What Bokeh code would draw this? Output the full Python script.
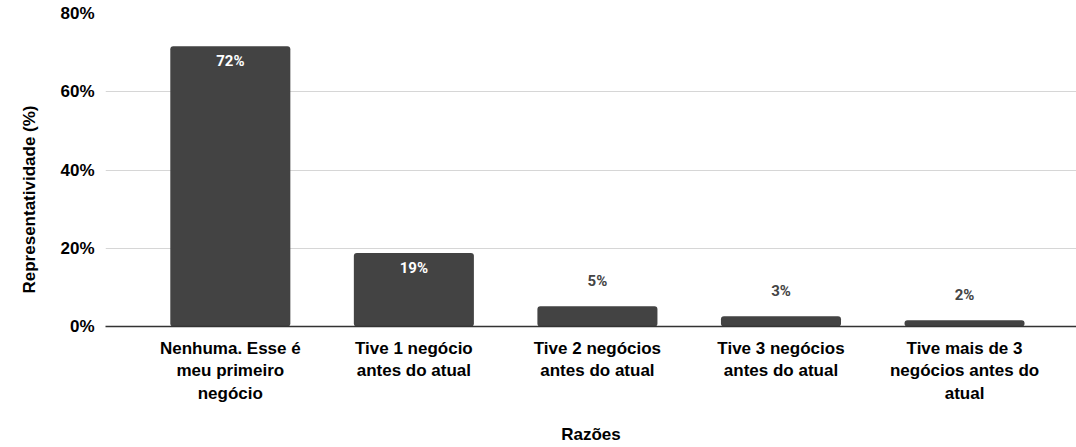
from bokeh.plotting import figure
from bokeh.models import ColumnDataSource, FixedTicker, PrintfTickFormatter, Range1d, Title
from bokeh.core.properties import value
from bokeh.embed import file_html
from bokeh.resources import INLINE

# ---- data ----
categories = [
    "Nenhuma. Esse é\nmeu primeiro\nnegócio",
    "Tive 1 negócio\nantes do atual",
    "Tive 2 negócios\nantes do atual",
    "Tive 3 negócios\nantes do atual",
    "Tive mais de 3\nnegócios antes do\natual",
]
values = [71.6, 18.8, 5.2, 2.6, 1.6]
value_labels = ["72%", "19%", "5%", "3%", "2%"]
y_ticks = [0, 20, 40, 60, 80]
x_title = "Razões"
y_title = "Representatividade (%)"

# ---- layout helpers ----
positions = [i + 0.5 for i in range(len(categories))]
inside = [v > 10 for v in values]
src = ColumnDataSource(dict(
    x=positions,
    top=values,
    label=value_labels,
    yoff=[15 if ins else -25 for ins in inside],
    color=["#ffffff" if ins else "#444444" for ins in inside],
))

BAR = "#434343"
FONT = "Liberation Sans"

p = figure(width=1076, height=447, output_backend="svg", toolbar_location=None,
           x_range=Range1d(-0.18, 5.11), y_range=Range1d(0, 80))
p.min_border_left = 105
p.min_border_right = 0
p.min_border_top = 13
p.min_border_bottom = 120
p.outline_line_color = None
p.background_fill_color = "white"
p.border_fill_color = "white"

p.vbar(x="x", top="top", bottom=0, width=0.654, source=src,
       fill_color=BAR, line_color=None, border_radius=3)

p.text(x="x", y="top", text="label", y_offset="yoff", source=src,
       text_color="color", text_align="center", text_baseline="middle",
       text_font=value("Roboto"), text_font_style="bold", text_font_size="15px")

# y axis
p.yaxis.ticker = FixedTicker(ticks=y_ticks)
p.yaxis.formatter = PrintfTickFormatter(format="%d%%")
p.yaxis.axis_line_color = None
p.yaxis.major_tick_line_color = None
p.yaxis.minor_tick_line_color = None
p.yaxis.major_label_text_font = FONT
p.yaxis.major_label_text_font_style = "bold"
p.yaxis.major_label_text_font_size = "17px"
p.yaxis.major_label_text_color = "#000000"
p.yaxis.major_label_standoff = 5

# y title as a side title (lets it sit below the frame centre, as in the reference)
p.add_layout(Title(text=y_title, align="left", offset=33, vertical_align="middle",
                   standoff=36, text_font=FONT, text_font_style="bold",
                   text_font_size="17px", text_color="#000000"), "left")

p.ygrid.grid_line_color = "#d6d6d6"
p.ygrid.grid_line_width = 1
p.xgrid.grid_line_color = None

# x axis
p.xaxis.ticker = FixedTicker(ticks=positions)
p.xaxis.major_label_overrides = {pos: cat for pos, cat in zip(positions, categories)}
p.xaxis.axis_line_color = "#333333"
p.xaxis.axis_line_width = 1.5
p.xaxis.major_tick_line_color = None
p.xaxis.minor_tick_line_color = None
p.xaxis.major_label_text_font = FONT
p.xaxis.major_label_text_font_style = "bold"
p.xaxis.major_label_text_font_size = "17px"
p.xaxis.major_label_text_color = "#000000"
p.xaxis.major_label_standoff = 6
p.xaxis.axis_label = x_title
p.xaxis.axis_label_text_font = FONT
p.xaxis.axis_label_text_font_style = "bold"
p.xaxis.axis_label_text_font_size = "17px"
p.xaxis.axis_label_text_color = "#000000"
p.xaxis.axis_label_standoff = 19

open("out.html", "w").write(file_html(p, INLINE))
